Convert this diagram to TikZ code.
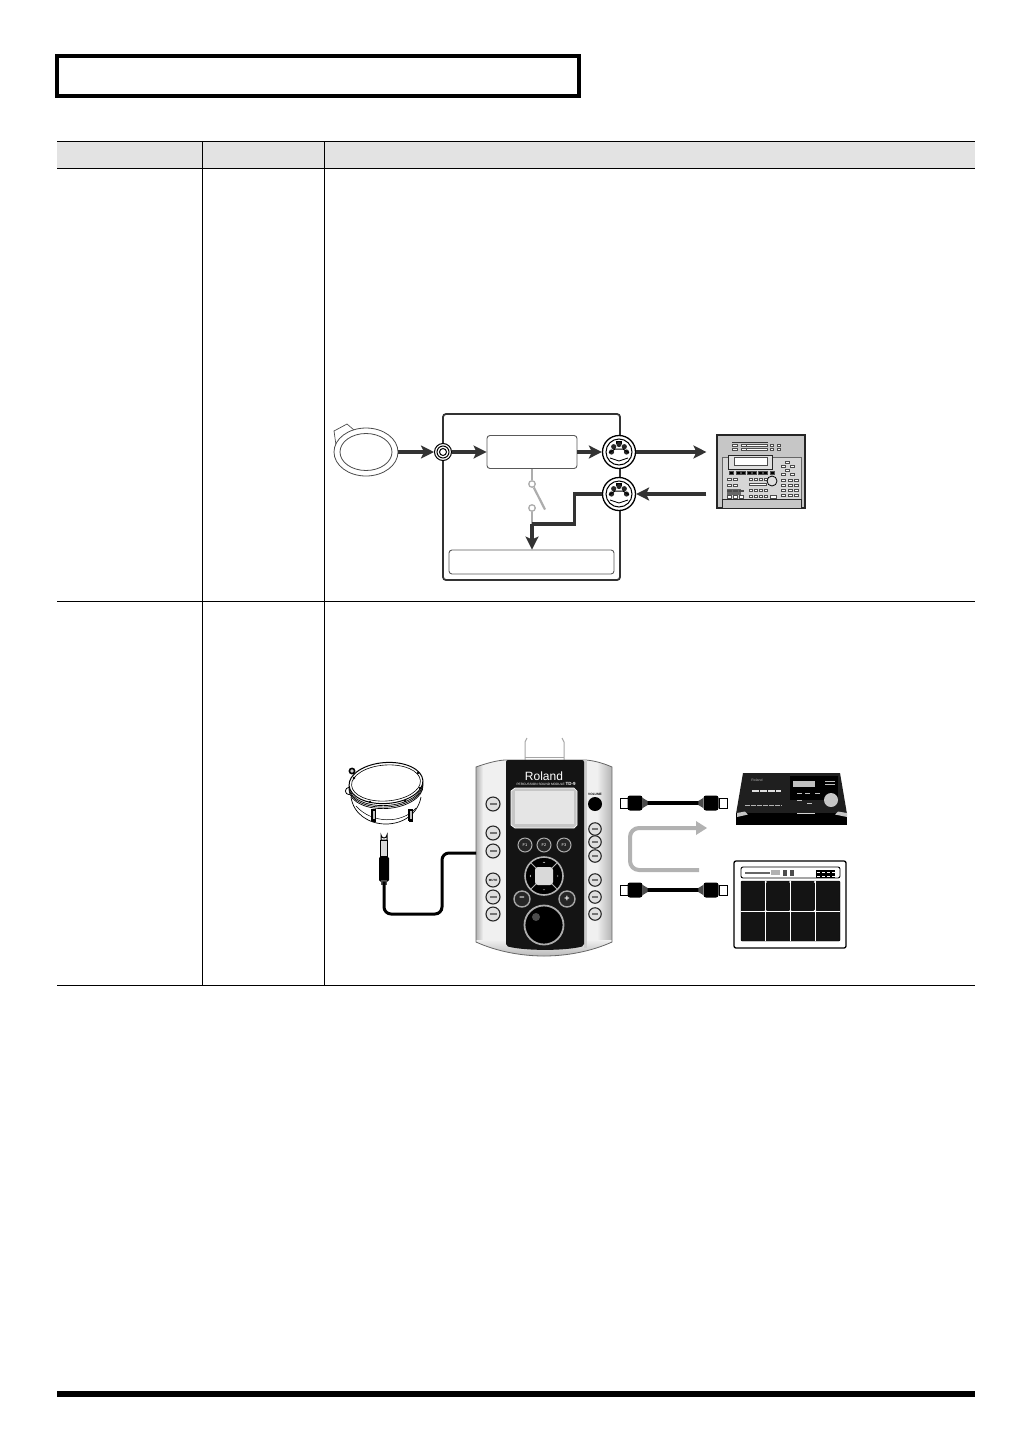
\documentclass[tikz,border=0pt]{standalone}
\usepackage{fontspec}
\setmainfont{Liberation Sans}
\usetikzlibrary{arrows.meta,shapes.geometric,positioning}

\definecolor{sigdark}{gray}{0.2}
\definecolor{swgray}{gray}{0.68}
\definecolor{headgray}{gray}{0.89}

\tikzset{
  sigline/.style={draw=sigdark,line width=3.2pt},
  sigarrow/.style={sigline,-{Stealth[length=13pt,width=13pt,inset=3pt]}},
  roundbox/.style={draw=black!65,line width=0.9pt,rounded corners=3pt,inner sep=0pt},
  dinjack/.style={circle,draw=black,line width=1.3pt,fill=white,minimum size=33pt,inner sep=0pt},
  tdbutton/.style={circle,draw=black!85,line width=1.1pt,fill=gray!25,minimum size=14pt,inner sep=0pt,font=\fontsize{3}{3}\bfseries\selectfont},
  tdfkey/.style={circle,draw=gray!65,line width=1pt,fill=black!85,text=white,minimum size=14pt,inner sep=0pt,font=\fontsize{4}{4}\selectfont},
  plugwhite/.style={draw=black,line width=0.9pt,fill=white,minimum width=8pt,minimum height=10pt,inner sep=0pt},
  plugblack/.style={fill=black,rounded corners=2.5pt,minimum width=15pt,minimum height=15pt,inner sep=0pt},
  seqkey/.style={draw=black!70,line width=0.4pt,fill=white},
}

\begin{document}
\begin{tikzpicture}[x=1pt,y=-1pt]
  \useasboundingbox (0,0) rectangle (1032,1456);
  \fill[white] (0,0) rectangle (1032,1456);

  % title box and table
  \node[draw=black,line width=4pt,minimum width=522pt,minimum height=40pt,inner sep=0pt] (titlebox) at (317.5,76) {};
  \fill[headgray] (57,141) rectangle (975,168);
  \draw[line width=1pt] (57,141) -- (975,141) (57,168) -- (975,168)
    (57,601.5) -- (975,601.5) (57,985) -- (975,985);
  \draw[line width=1pt] (202.5,141) -- (202.5,985) (324.5,141) -- (324.5,985);
  \fill[black] (57,1391) rectangle (975,1397);

  % upper diagram: pad
  \draw[draw=black!70,line width=0.7pt,fill=white] (334,431) -- (347,424) -- (354,430) -- (336,445) -- cycle;
  \node[ellipse,draw=black!70,line width=0.8pt,fill=white,minimum width=64pt,minimum height=48pt,inner sep=0pt] (pad) at (366,452) {};
  \node[ellipse,draw=black!70,line width=0.8pt,minimum width=52pt,minimum height=37pt,inner sep=0pt] (padhead) at (366,452) {};

  % upper diagram: module
  \node[roundbox,draw=black!80,line width=1.8pt,minimum width=177pt,minimum height=166pt] (module) at (531.5,497) {};
  \node[roundbox,minimum width=90pt,minimum height=33pt,fill=white] (engine) at (532,452) {};
  \node[roundbox,minimum width=165pt,minimum height=24pt,fill=white] (soundgen) at (531.5,562) {};
  \node[circle,draw=black,line width=1pt,fill=white,minimum size=17pt,inner sep=0pt] (trigin) at (443,452) {};
  \node[circle,draw=black,line width=1pt,minimum size=12pt,inner sep=0pt] at (trigin) {};
  \node[circle,draw=black,line width=1pt,minimum size=7pt,inner sep=0pt] at (trigin) {};
  \node[dinjack] (midiout) at (619,452) {};
  \node[dinjack] (midiin) at (619,494) {};
  \foreach \din in {midiout,midiin}{
    \node[circle,draw=black,line width=1pt,minimum size=26pt,inner sep=0pt] at (\din) {};
    \fill[black] ([shift={(-3,-11.5)}]\din.center) rectangle ([shift={(3,-8)}]\din.center);
    \foreach \ang in {180,225,270,315,360}
      \fill[black!85] (\din.center) ++(\ang:7.5) circle (2.6pt);
    \draw[black,line width=1pt] ([shift={(-10,1)}]\din.center) -- ([shift={(-4,-3)}]\din.center) -- ([shift={(4,-3)}]\din.center) -- ([shift={(10,1)}]\din.center);
    \draw[black,line width=0.9pt] ([shift={(-9,6)}]\din.center) -- ([shift={(0,9)}]\din.center) -- ([shift={(9,6)}]\din.center);
  }

  % local control switch
  \node[circle,draw=swgray,line width=1.3pt,fill=white,minimum size=6.5pt,inner sep=0pt] (swtop) at (532,484) {};
  \node[circle,draw=swgray,line width=1.3pt,fill=white,minimum size=6.5pt,inner sep=0pt] (swbot) at (532,508) {};
  \coordinate (swend) at (545,509.5);
  \coordinate (elbowa) at (574.5,494);
  \coordinate (elbowb) at (574.5,524);
  \coordinate (elbowc) at (532,524);
  \draw[swgray,line width=2.2pt] (engine.south -| swtop) -- (swtop);
  \draw[swgray,line width=2.2pt] (swbot) -- (elbowc);
  \draw[swgray,line width=2.2pt] (swtop) -- (swend);

  % upper diagram: sequencer
  \node[draw=black!85,line width=1.1pt,fill=gray!45,minimum width=88pt,minimum height=73pt,inner sep=0pt] (seq) at (761,471.5) {};
  \draw[black!60,line width=0.5pt,fill=gray!32] (722,457) rectangle (801,499);
  \draw[black!85,line width=0.8pt,fill=gray!25] (728,455) rectangle (772,469);
  \draw[black!70,line width=0.5pt,fill=white] (734,457) rectangle (767,465.5);
  \draw[black!80,line width=1pt] (732,442) -- (768,442);
  \foreach \y in {445,449}{
    \foreach \x in {732,741}
      \draw[seqkey] (\x,\y-1) rectangle +(5,2.2);
    \draw[seqkey] (746.5,\y-1) rectangle +(21,2.2);
    \foreach \x in {770,777}
      \draw[seqkey] (\x,\y-1) rectangle +(3.5,2.2);
  }
  \foreach \x in {729,736,741,747,752,758,763,770}
    \draw[seqkey,fill=black] (\x,471) rectangle +(4,3);
  \foreach \x in {727,733}{
    \draw[seqkey] (\x,478) rectangle +(4,2);
    \draw[seqkey] (\x,484) rectangle +(4,2);
  }
  \fill[black!60] (727,489) rectangle (741,495);
  \foreach \x in {727,733,739}{
    \draw[seqkey] (\x,490) rectangle +(4,1.5);
    \draw[seqkey] (\x,495) rectangle +(4,3);
  }
  \foreach \x in {749,754,759,764}{
    \draw[seqkey] (\x,478) rectangle +(3.5,2);
    \draw[seqkey] (\x,495) rectangle +(3.5,2.5);
    \draw[seqkey] (\x,489) rectangle +(3.5,2);
  }
  \draw[seqkey] (749,483) rectangle +(17,2);
  \draw[seqkey] (770,495) rectangle +(6,3);
  \foreach \x in {781,788,794}{
    \foreach \y in {479,484,489,494}
      \draw[seqkey] (\x,\y) rectangle +(4.5,2.2);
  }
  \foreach \x/\y in {785/461,781/465,790/465,785/469,781/473,790/473}
    \draw[seqkey] (\x,\y) rectangle +(4,2);
  \node[circle,draw=black,line width=0.8pt,fill=gray!25,minimum size=10pt,inner sep=0pt] (seqknob) at (772,481) {};
  \draw[black!85,line width=0.9pt,fill=gray!45] (722,499) rectangle (801,508);

  % upper diagram: signal flow
  \draw[sigarrow] (pad.east) -- (trigin.west);
  \draw[sigarrow] (trigin.east) -- (engine.west);
  \draw[sigarrow] (engine.east) -- (midiout.west);
  \draw[sigarrow,shorten >=10pt] (midiout.east) -- (seq.west |- midiout);
  \draw[sigarrow,shorten <=10pt] (seq.west |- midiin) -- (midiin.east);
  \draw[sigline] (midiin.west) -- (elbowa) -- (elbowb) -- (elbowc);
  \draw[sigarrow] (elbowc) -- (soundgen.north -| elbowc);

  % lower diagram: drum
  \draw[black,line width=0.7pt,fill=white] (351,797) .. controls (356,832) and (414,834) .. (421,797);
  \draw[black,line width=0.5pt] (356,806) .. controls (372,824) and (402,824) .. (416,808);
  \foreach \x in {372,409}{
    \draw[black,line width=1.2pt,fill=gray!50] (\x,810) rectangle +(3.5,10);
    \fill[black] (\x-0.5,820) rectangle +(4.5,2);
  }
  \draw[black,line width=1.6pt,fill=gray!40] (352,771) circle (2.6pt);
  \draw[black,line width=0.8pt] (349,791) circle (3.6pt);
  \foreach \off in {5,3.5,2}
    \node[ellipse,rotate=4,draw=black,line width=0.7pt,fill=white,minimum width=74pt,minimum height=41pt,inner sep=0pt] at (386,783+\off) {};
  \node[ellipse,rotate=4,draw=black,line width=1pt,fill=white,minimum width=74pt,minimum height=41pt,inner sep=0pt] (drum) at (386,783) {};
  \node[ellipse,rotate=4,draw=black,line width=0.6pt,minimum width=69pt,minimum height=36pt,inner sep=0pt] at (386,783) {};
  \foreach \x/\y in {354/778,418/773,420/788,370/802,405/801}
    \fill[black] (\x,\y) circle (1.3pt);

  % lower diagram: phone plug and cable
  \draw[black,line width=1pt,fill=white] (381,840) -- (381,835) arc[start angle=180,end angle=0,radius=3] -- (387,840) -- cycle;
  \node[draw=black,line width=0.9pt,fill=gray!30,minimum width=7pt,minimum height=16pt,inner sep=0pt] (plugshaft) at (384,848) {};
  \node[fill=black,rounded corners=1.5pt,minimum width=10pt,minimum height=25pt,inner sep=0pt] (plugbody) at (384,869) {};
  \coordinate (cablea) at (384,914);
  \coordinate (cableb) at (442,914);
  \coordinate (cablec) at (442,853);
  \fill[black!70] (381,880) rectangle (387,885);

  % lower diagram: TD-9
  \draw[gray!70,line width=1pt] (525,760) -- (525,742) -- (527,738) (564,760) -- (564,742) -- (562,738);
  \draw[gray!70,line width=0.7pt] (525,757) -- (564,757);
  \begin{scope}
    \clip (476,767) .. controls (490,762) and (500,760) .. (506,760) -- (584,760)
      .. controls (592,760) and (603,763) .. (612,767) -- (612,942)
      .. controls (590,952) and (565,956) .. (544,956) .. controls (523,956) and (498,952) .. (476,942) -- cycle;
    \fill[gray!12] (470,755) rectangle (618,960);
    \shade[left color=gray!60,right color=gray!12] (476,755) rectangle (483,960);
    \shade[left color=gray!12,right color=gray!60] (597,755) rectangle (612,960);
    \shade[top color=gray!12,bottom color=gray!60] (470,940) rectangle (618,958);
  \end{scope}
  \draw[black!60,line width=0.8pt]
    (476,767) .. controls (490,762) and (500,760) .. (506,760) -- (584,760)
    .. controls (592,760) and (603,763) .. (612,767) -- (612,942)
    .. controls (590,952) and (565,956) .. (544,956) .. controls (523,956) and (498,952) .. (476,942) -- cycle;
  \fill[gray!40] (584,760) rectangle (587,948);
  \fill[black!92,rounded corners=2pt] (506,760) -- (584,760) -- (584,946) .. controls (565,951) and (525,951) .. (506,946) -- cycle;
  \node[text=white,font=\fontsize{12}{12}\selectfont] (brand) at (544,776) {Roland};
  \node[text=white,font=\fontsize{3.2}{3.2}\selectfont,anchor=west] (modname) at (513,784) {PERCUSSION SOUND MODULE};
  \node[text=white,font=\fontsize{4.5}{4.5}\bfseries\selectfont] (modtype) at (570.5,784) {TD-9};
  \draw[white,line width=0.7pt,fill=gray!45] (511,791) -- (515,788) -- (574,788) -- (577,791) -- (577,825) -- (574,828) -- (515,828) -- (511,825) -- cycle;
  \fill[gray!20] (515,791) rectangle (574,824);
  \foreach \x/\lab/\nm in {525/F1/keyfa,544/F2/keyfb,564/F3/keyfc}
    \node[tdfkey] (\nm) at (\x,845) {\lab};
  % d-pad
  \node[circle,draw=gray!60,line width=1.6pt,fill=black,minimum size=38pt,inner sep=0pt] (dpad) at (544,876) {};
  \foreach \a in {45,135,225,315}
    \draw[gray!60,line width=1pt] (dpad.center) -- ++(\a:18);
  \node[fill=gray!30,rounded corners=3pt,minimum size=18pt,inner sep=0pt] at (dpad) {};
  \foreach \a in {0,90,180,270}
    \fill[white] (dpad.center) ++(\a:13) ++(\a:1.2) -- ++(\a+120:1.4) -- ++(\a-90:2.4) -- cycle;
  \node[tdfkey,draw=gray!70,line width=1.4pt,minimum size=16pt,font=\fontsize{9}{9}\bfseries\selectfont] (keyminus) at (522,899) {−};
  \node[tdfkey,draw=gray!70,line width=1.4pt,minimum size=16pt,font=\fontsize{9}{9}\bfseries\selectfont] (keyplus) at (567,899) {+};
  \node[circle,draw=gray!65,line width=1.8pt,fill=black,minimum size=39pt,inner sep=0pt] (dial) at (544,925) {};
  \fill[black!70] (536,917) circle (4pt);
  % side buttons
  \foreach \y/\nm in {804/btla,833/btlb,851/btlc,897/btle,914/btlf}{
    \node[tdbutton] (\nm) at (493,\y) {};
    \fill[black!55] ([shift={(-3.5,-1.2)}]\nm.center) rectangle ([shift={(3.5,1.2)}]\nm.center);
  }
  \node[tdbutton] (btld) at (493,880) {MUTE};
  \foreach \y/\nm in {829/btra,842/btrb,856/btrc,880/btrd,897/btre,914/btrf}{
    \node[tdbutton,minimum size=12.5pt] (\nm) at (595,\y) {};
    \fill[black!55] ([shift={(-3,-1.2)}]\nm.center) rectangle ([shift={(3,1.2)}]\nm.center);
  }
  \node[font=\fontsize{3.2}{3.2}\bfseries\selectfont] (vollabel) at (595,794.5) {VOLUME};
  \node[circle,fill=black,minimum size=14pt,inner sep=0pt] (volknob) at (595,804) {};
  \draw[draw=black,line width=3pt,rounded corners=7pt] (plugbody.south) -- (cablea) -- (cableb) -- (cablec) -- (476,853);

  % lower diagram: midi cables
  \foreach \y/\nm in {803/a,890/b}{
    \node[plugwhite] (lead\nm) at (624,\y) {};
    \node[plugblack] (bodyl\nm) at (635,\y) {};
    \node[plugblack] (bodyr\nm) at (711,\y) {};
    \node[plugwhite] (tail\nm) at (723,\y) {};
    \draw[black,line width=4pt] (bodyl\nm.east) -- (bodyr\nm.west);
    \fill[black!70] ([yshift=5]bodyl\nm.east) -- ++(5,3) -- ++(0,4) -- ++(-5,3) -- cycle;
    \fill[black!70] ([yshift=5]bodyr\nm.west) -- ++(-5,3) -- ++(0,4) -- ++(5,3) -- cycle;
  }
  \coordinate (backa) at (699,870);
  \coordinate (backb) at (630,870);
  \coordinate (backc) at (630,828);
  \coordinate (backd) at (707,828);
  \draw[gray!60,line width=4pt,rounded corners=9pt] (backa) -- (backb) -- (backc) -- (696,828);
  \fill[gray!60] (696,821) -- (707,828) -- (696,835) -- cycle;

  % lower diagram: sound module
  \fill[black!88] (743,773) -- (840,773) -- (847,814) -- (736,814) -- cycle;
  \fill[black] (736,813) rectangle (847,825);
  \fill[black] (790,776) rectangle (838,800);
  \fill[gray!50] (793,781) rectangle (815,787);
  \node[circle,fill=gray!45,minimum size=14pt,inner sep=0pt] (sdial) at (831,800) {};
  \foreach \x/\y in {797/793,805/793,815/793,797/800,807/803}
    \fill[gray!50] (\x,\y) rectangle +(5,1);
  \foreach \y in {781,784}
    \fill[gray!50] (825,\y) rectangle +(10,0.8);
  \node[text=gray!60,font=\fontsize{3.5}{3.5}\selectfont] (sbrand) at (757,780) {Roland};
  \draw[gray!25,line width=1.6pt,dash pattern=on 7pt off 1pt] (752,791) -- (781,791);
  \draw[gray!60,line width=0.8pt,dash pattern=on 5pt off 1pt] (745,805.5) -- (782,805.5);
  \fill[gray!45] (737,813) -- (745,811.5) -- (748,814.5) -- (737,817) -- cycle;
  \fill[gray!45] (847,813) -- (838,811.5) -- (835,814.5) -- (847,817) -- cycle;
  \fill[gray!35] (797,813) rectangle (815,814);

  % lower diagram: pad controller
  \node[draw=black,line width=1.3pt,rounded corners=2pt,fill=white,minimum width=112pt,minimum height=87pt,inner sep=0pt] (spd) at (790,904.5) {};
  \node[draw=black,line width=0.9pt,rounded corners=2pt,minimum width=99pt,minimum height=11pt,inner sep=0pt] (spdbar) at (790.5,872.5) {};
  \fill[gray!60] (771,870) rectangle (780,875);
  \fill[black] (816,870) rectangle (835,878);
  \foreach \x in {817,822,827,832}
    \foreach \y in {872,875.5}
      \fill[white] (\x,\y) rectangle +(3,0.8);
  \fill[black!60] (745,872) rectangle (770,874);
  \foreach \x in {783,790}
    \fill[black!70] (\x,870) rectangle +(4,6);
  \node[draw=black,fill=black!92,rounded corners=1pt,minimum width=99pt,minimum height=60pt,inner sep=0pt] (padgrid) at (790.5,911) {};
  \foreach \x in {765.7,790.3,815}{
    \draw[white,line width=1pt] (\x,881) -- (\x,941);
    \fill[white] (\x,911) circle (1.3pt);
    \fill[white] (\x,882) circle (1.1pt);
  }
  \draw[white,line width=1pt] (padgrid.west) -- (padgrid.east);
\end{tikzpicture}
\end{document}
